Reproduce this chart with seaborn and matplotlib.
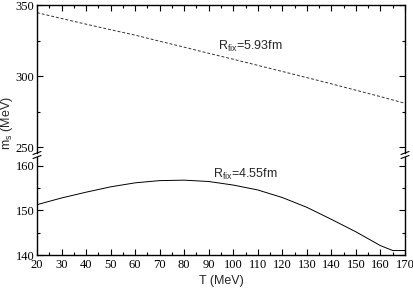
import numpy as np
import pandas as pd
import matplotlib
matplotlib.use("Agg")
import matplotlib.pyplot as plt
import seaborn as sns
from matplotlib.lines import Line2D

# Data
T_upper = [20, 30, 40, 50, 60, 70, 80, 90, 100, 110, 120, 130, 140, 150, 160, 170]
ms_upper = [344.6, 340.5, 336.5, 332.6, 328.8, 324.5, 320.3, 316.0, 311.8, 307.5,
            303.2, 298.9, 294.5, 290.0, 285.5, 280.8]
T_lower = [20, 30, 40, 50, 60, 70, 80, 90, 100, 110, 120, 130, 140, 150, 160, 165, 170]
ms_lower = [151.3, 152.8, 154.1, 155.3, 156.2, 156.7, 156.8, 156.5, 155.7, 154.6,
            152.9, 150.7, 148.0, 145.2, 142.1, 141.0, 141.0]
label_upper = r"$\mathregular{R_{fix}}$=5.93fm"
label_lower = r"$\mathregular{R_{fix}}$=4.55fm"

df_u = pd.DataFrame({"T": T_upper, "ms": ms_upper})
df_l = pd.DataFrame({"T": T_lower, "ms": ms_lower})

sns.set_style("ticks")
plt.rcParams["font.family"] = ["Liberation Sans", "DejaVu Sans"]
plt.rcParams["mathtext.fontset"] = "custom"
plt.rcParams["mathtext.rm"] = "Liberation Sans"

W, H = 414, 288
fig = plt.figure(figsize=(W / 100, H / 100), dpi=100)
L, R = 37 / W, 405 / W
ax_u = fig.add_axes([L, 1 - 153 / H, R - L, (153 - 5) / H])
ax_l = fig.add_axes([L, 1 - 255 / H, R - L, (255 - 157) / H])

sns.lineplot(data=df_u, x="T", y="ms", ax=ax_u, color="#333333", lw=0.7,
             linestyle=(0, (3, 2)))
sns.lineplot(data=df_l, x="T", y="ms", ax=ax_l, color="black", lw=0.7)

ax_u.set_ylim(245.8, 350)
ax_l.set_ylim(140, 162.0)
for ax in (ax_u, ax_l):
    ax.set_xlim(20, 170)
    ax.set_xlabel("")
    ax.set_ylabel("")
    ax.set_xticks(np.arange(20, 171, 10))
    ax.set_xticks(np.arange(25, 170, 10), minor=True)
    for s in ax.spines.values():
        s.set_linewidth(1.0)
        s.set_color("black")
        s.set_visible(True)
    ax.tick_params(which="both", direction="in", width=0.8, colors="black",
                   left=True, right=True, labelright=False)
    ax.tick_params(which="major", length=4)
    ax.tick_params(which="minor", length=2)

ax_u.set_yticks([250, 300, 350])
ax_u.set_yticks([275, 325], minor=True)
ax_l.set_yticks([140, 150, 160])
ax_l.set_yticks([145, 155], minor=True)
for ax in (ax_u, ax_l):
    for lab in ax.get_xticklabels() + ax.get_yticklabels():
        lab.set_fontfamily("Liberation Serif")
        lab.set_fontsize(9)

ax_u.spines["bottom"].set_visible(False)
ax_l.spines["top"].set_visible(False)
ax_u.tick_params(which="both", top=True, bottom=False, labelbottom=False, labeltop=False)
ax_l.tick_params(which="both", top=False, bottom=True, labelbottom=True)
ax_u.tick_params(axis="y", pad=2)
ax_l.tick_params(axis="y", pad=2)
ax_l.tick_params(axis="x", pad=3)

ax_u.text(93.8, 321, label_upper, fontsize=9, va="center", ha="left")
ax_l.text(91.7, 158.1, label_lower, fontsize=9, va="center", ha="left")

ax_l.set_xlabel("T (MeV)", fontsize=9, labelpad=3)
fig.text(7 / W, 1 - 123 / H, r"$\mathregular{m_s}$ (MeV)", rotation=90,
         fontsize=9, ha="center", va="center")

# Break marks
for xp in (37, 405):
    for yp in (153, 157):
        fig.add_artist(Line2D([(xp - 4) / W, (xp + 4) / W],
                              [1 - (yp + 1.5) / H, 1 - (yp - 1.5) / H],
                              transform=fig.transFigure, color="black", lw=0.8))

fig.savefig("out.png", dpi=100)
